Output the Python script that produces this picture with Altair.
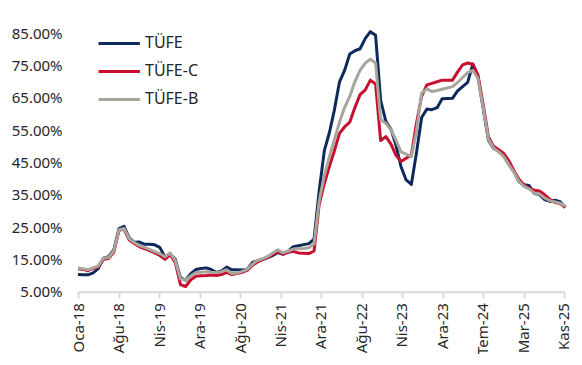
import json
import altair as alt
import pandas as pd

SERIES = ["TÜFE", "TÜFE-C", "TÜFE-B"]
COLORS = ["#0e2a5c", "#c8102e", "#a9a49c"]

# observation dates: first of month up to 2023, month-end dates from 2024 on (as plotted in the source)
DATES = [f"{y}-{m:02d}-01" for y in range(2018, 2024) for m in range(1, 13)] + [
    (pd.Timestamp(year=y, month=m, day=1) + pd.offsets.MonthEnd(0)).strftime("%Y-%m-%d")
    for y in (2024, 2025) for m in range(1, 13) if not (y == 2025 and m == 12)
]

TUFE = [
    10.35, 10.26, 10.23, 10.85, 12.15, 15.39, 15.85, 17.90, 24.52, 25.24, 21.62, 20.30,
    20.35, 19.67, 19.71, 19.50, 18.71, 15.72, 16.65, 15.01, 9.26, 8.55, 10.56, 11.84,
    12.15, 12.37, 11.86, 10.94, 11.39, 12.62, 11.76, 11.77, 11.75, 11.89, 14.03, 14.60,
    14.97, 15.61, 16.19, 17.14, 16.59, 17.53, 18.95, 19.25, 19.58, 19.89, 21.31, 36.08,
    48.69, 54.44, 61.14, 69.97, 73.50, 78.62, 79.60, 80.21, 83.45, 85.51, 84.39, 64.27,
    57.68, 55.18, 50.51, 43.68, 39.59, 38.21, 47.83, 58.94, 61.53, 61.36, 61.98, 64.77,
    64.86, 67.07, 68.50, 69.80, 75.45, 71.60, 61.78, 51.97, 49.38, 48.58, 47.09, 44.38,
    42.12, 39.05, 38.10, 37.86, 35.41, 35.05, 33.52, 32.95, 33.29, 32.87, 31.07,
]
TUFE_C = [
    12.1, 11.9, 11.5, 12.2, 12.6, 15.0, 15.3, 17.2, 24.0, 24.3, 21.0, 19.9,
    18.9, 18.3, 17.7, 17.0, 16.2, 15.0, 16.5, 14.0, 7.2, 6.6, 8.7, 9.8,
    9.9, 10.0, 10.2, 10.0, 10.3, 11.0, 10.3, 10.6, 11.0, 11.6, 13.2, 14.2,
    15.0, 15.6, 16.6, 17.3, 16.6, 17.2, 17.5, 17.0, 16.9, 16.8, 17.6, 31.9,
    38.5, 44.0, 48.5, 54.0, 56.0, 57.5, 62.0, 66.0, 67.5, 70.5, 69.3, 51.8,
    53.0, 50.6, 47.3, 45.3, 46.3, 47.3, 57.0, 65.5, 69.0, 69.5, 70.0, 70.5,
    70.5, 72.9, 75.2, 75.8, 75.4, 72.1, 63.0, 53.0, 50.0, 49.0, 47.8, 45.5,
    42.3, 39.8, 38.0, 37.0, 36.4, 36.2, 35.0, 33.6, 32.6, 32.3, 31.1,
]
TUFE_B = [
    12.3, 12.1, 11.8, 12.4, 12.9, 15.4, 15.6, 17.6, 24.2, 24.6, 21.4, 20.2,
    19.3, 18.7, 18.1, 17.4, 16.8, 15.8, 17.0, 14.6, 8.9, 8.6, 9.9, 10.9,
    11.0, 11.2, 11.0, 10.9, 11.2, 11.8, 10.6, 10.8, 11.3, 11.9, 13.6, 14.7,
    15.2, 16.0, 17.0, 18.0, 17.0, 17.6, 18.2, 18.3, 18.4, 18.6, 19.8, 33.0,
    41.0, 47.0, 52.0, 57.5, 62.0, 65.5, 70.0, 73.5, 75.8, 77.0, 75.8, 58.3,
    57.1, 55.0, 52.0, 48.3, 47.6, 46.8, 54.5, 66.5, 67.8, 67.0, 67.3, 67.7,
    68.5, 69.7, 71.3, 72.8, 73.5, 71.0, 62.0, 52.3, 49.5, 48.3, 46.8, 44.3,
    41.8, 39.2, 37.6, 36.8, 35.5, 35.2, 34.0, 33.2, 32.8, 32.4, 31.5,
]

TICK_LABELS = ["Oca-18", "Ağu-18", "Nis-19", "Ara-19", "Ağu-20", "Nis-21", "Ara-21",
               "Ağu-22", "Nis-23", "Ara-23", "Tem-24", "Mar-25", "Kas-25"]
TICK_STEP_DAYS = 240.2
Y_TICKS = [5, 15, 25, 35, 45, 55, 65, 75, 85]

FONT = "Noto Sans"
TEXT = "#262626"

start = pd.Timestamp("2018-01-01")
days = [(pd.Timestamp(d) - start).days for d in DATES]
rows = []
for name, vals in zip(SERIES, [TUFE, TUFE_C, TUFE_B]):
    for d, v in zip(days, vals):
        rows.append({"day": d, "value": v, "series": name})
df = pd.DataFrame(rows)

tick_vals = [k * TICK_STEP_DAYS for k in range(len(TICK_LABELS))]
label_expr = f"{json.dumps(TICK_LABELS)}[round(datum.value / {TICK_STEP_DAYS})]"

x = alt.X("day:Q",
          scale=alt.Scale(domain=[0, tick_vals[-1]], nice=False, zero=False),
          axis=alt.Axis(values=tick_vals, labelExpr=label_expr, title=None, grid=False,
                        labelAngle=-90, labelFontSize=15, labelFont=FONT, labelColor=TEXT,
                        labelPadding=5, domainColor="#d9d9d9", domainWidth=2,
                        tickColor="#d9d9d9", tickWidth=2, tickSize=6))
y = alt.Y("value:Q",
          scale=alt.Scale(domain=[5, 85], nice=False, zero=False),
          axis=alt.Axis(values=Y_TICKS, labelExpr="format(datum.value, '.2f') + '%'",
                        title=None, grid=False, domain=False, ticks=False, tickSize=0,
                        labelPadding=16, labelFontSize=15, labelFont=FONT, labelColor=TEXT))
color = alt.Color("series:N",
                  scale=alt.Scale(domain=SERIES, range=COLORS),
                  legend=alt.Legend(orient="none", legendX=21.7, legendY=-9.3, title=None,
                                    symbolType="M-1.15,0H1.15", symbolSize=1296,
                                    symbolStrokeWidth=3, labelFontSize=16, labelFont=FONT,
                                    labelColor=TEXT, labelOffset=6.3, rowPadding=0, padding=0))

base = alt.Chart(df).mark_line(strokeWidth=3, strokeJoin="round").encode(x=x, y=y, color=color)
layers = [base.transform_filter(alt.datum.series == s) for s in SERIES]

chart = alt.layer(*layers).properties(
    width=486, height=258.4,
    autosize=alt.AutoSizeParams(type="none"),
    padding={"left": 70, "top": 25.3, "right": 10, "bottom": 62},
).configure_view(stroke=None)

chart.save("out.html", embed_options={"renderer": "svg", "actions": False})
